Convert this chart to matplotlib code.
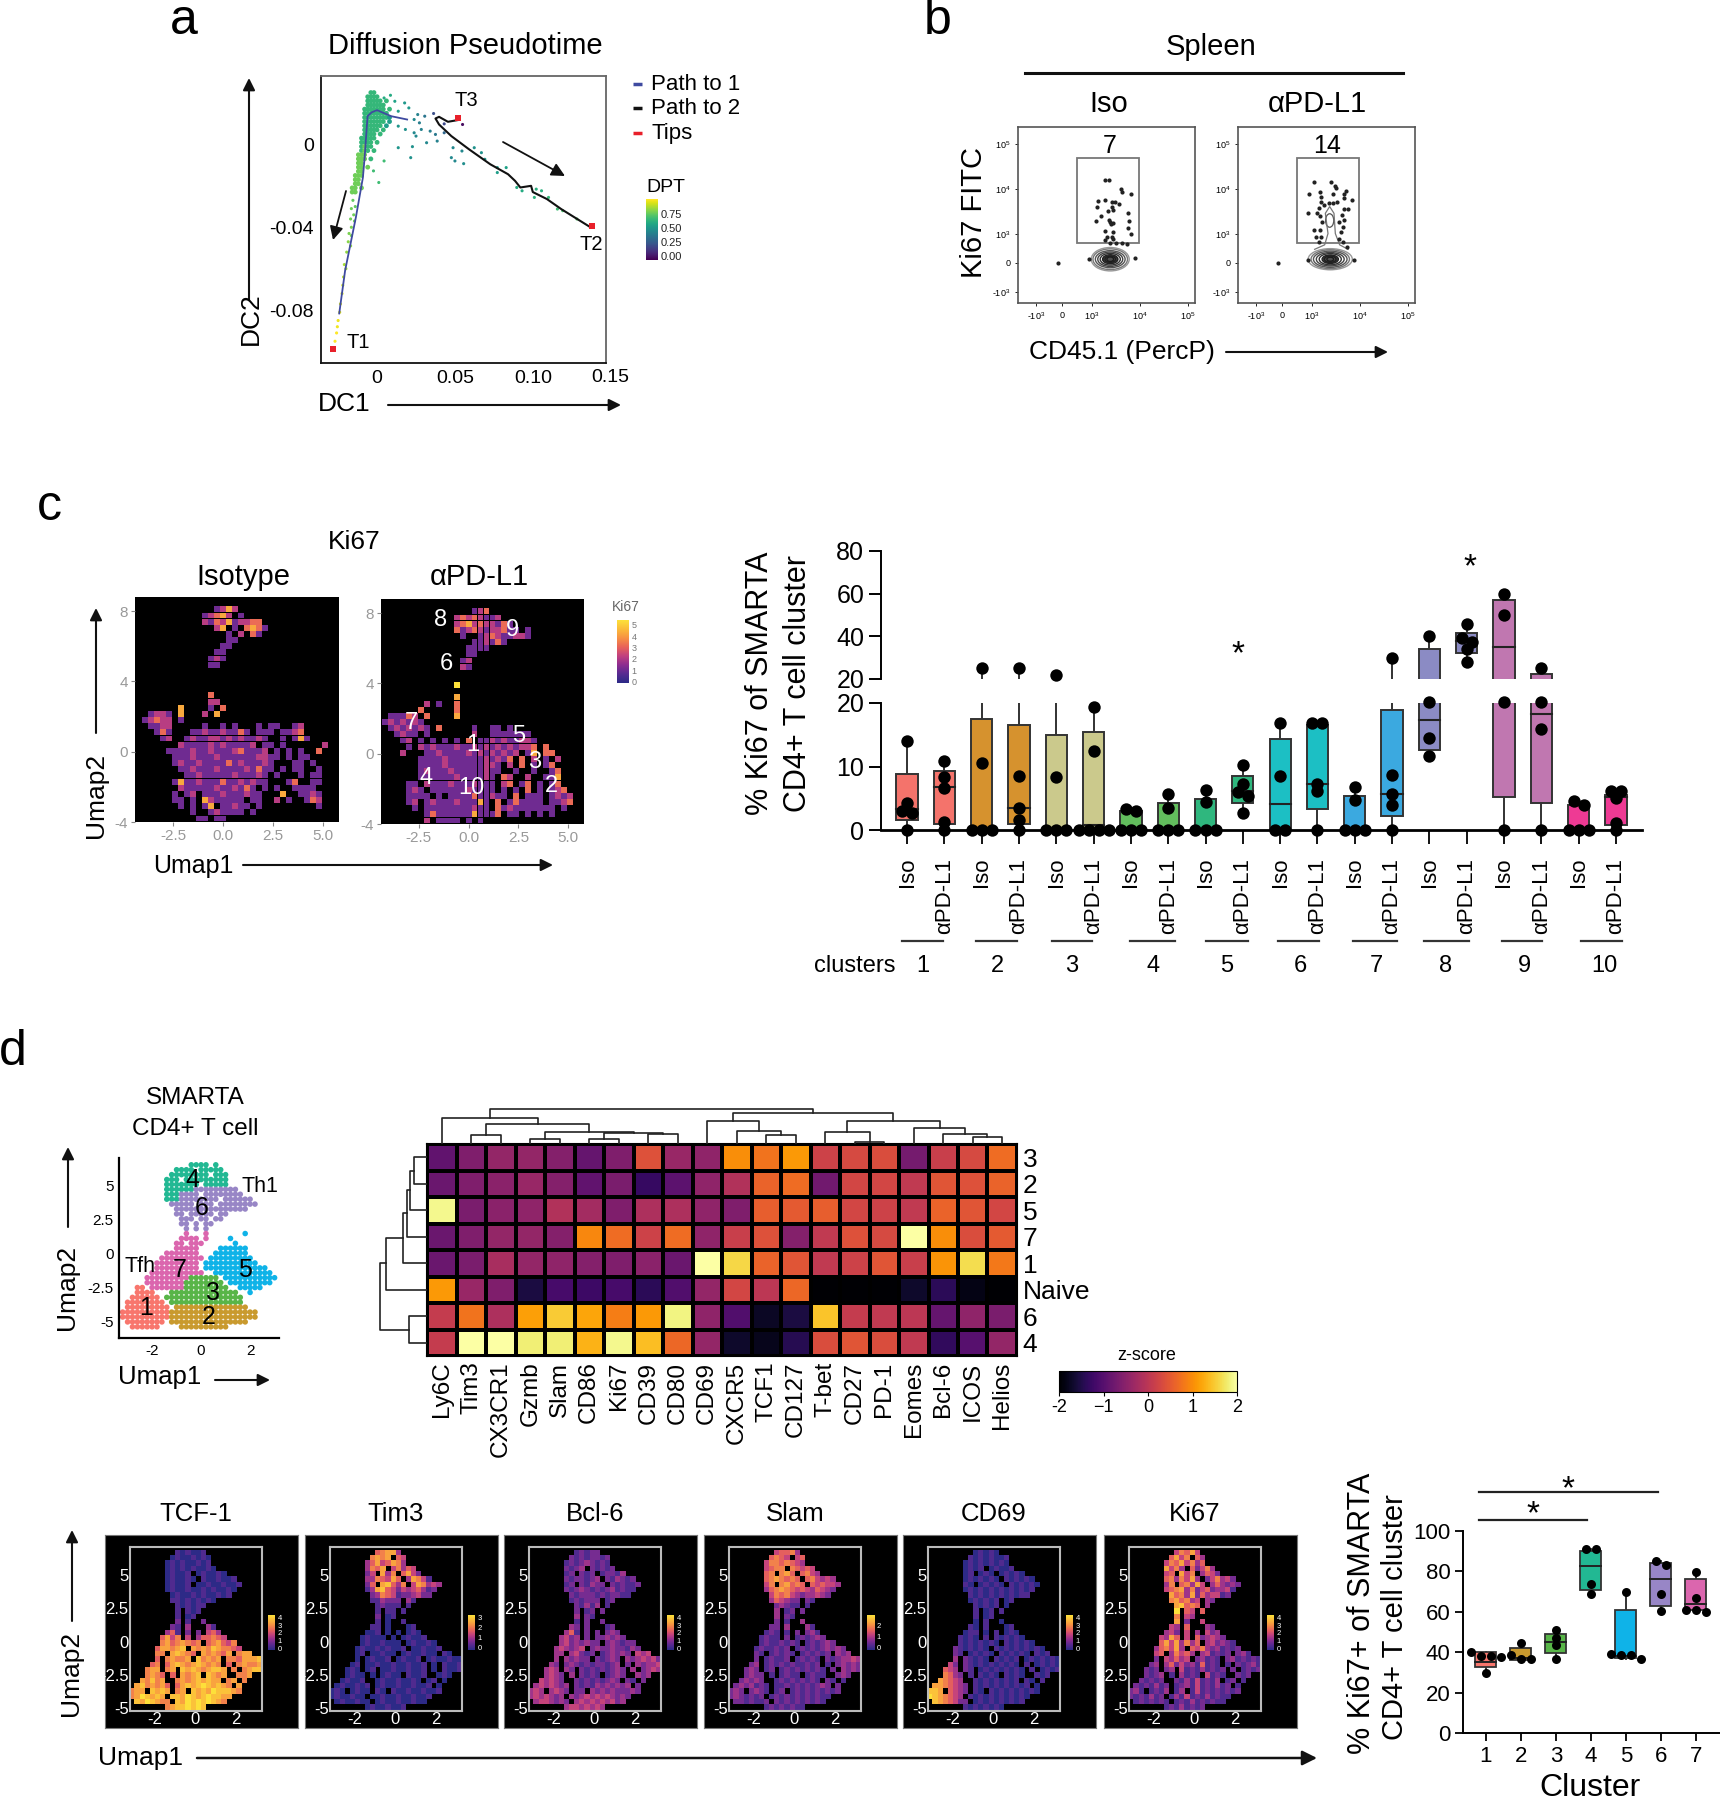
#!/usr/bin/env python3

import numpy as np
import matplotlib
matplotlib.use('Agg')
import matplotlib.pyplot as plt
from matplotlib.colors import LinearSegmentedColormap
from matplotlib.patches import Ellipse, Rectangle

plt.rcParams['font.family'] = ['Liberation Sans', 'DejaVu Sans']
plt.rcParams['mathtext.default'] = 'regular'
plt.rcParams['axes.unicode_minus'] = False

W, H = 1720, 1800

# panel a, diffusion map
a_dc1 = [.0045, .0086, .0114, .0177, .0204, .0136, .0261, .0306, .0363, .0238, .0272, .0136, .0182, .0238, .0284,
         .0341, .0431, .0375, .025, .0136, .0227, .0216, .0318, .0386, .0488, .0545, .0477, .05, .0556, .0624,
         .067, .0692, .0772, .0772, .0829, .0897, .0931, .1022, .1056, .101, .1101, .1158, .1192, .1283, .0045,
         .0011, -.0023, .0549, .0431,
         -.0155, -.014, -.0165, -.015, -.017, -.0145, -.0165, -.018, -.0165, -.0185, -.017, -.0195, -.021, -.02,
         -.0215, -.022, -.0225, -.0235, -.024, -.025, -.0255, -.026, -.027]
a_dc2 = [.0224, .0237, .0208, .02, .0176, .016, .0144, .0136, .0149, .012, .0104, .0088, .0072, .0056, .0072,
         .0064, .0056, .0048, .004, -.0016, -.0011, -.0064, .0008, .0016, -.0016, -.0032, -.0064, -.008, -.0093, -.0016,
         -.004, -.0072, -.0112, -.0136, -.0112, -.0208, -.0224, -.0216, -.0224, -.0256, -.0256, -.0312, -.032, -.036, -.008,
         -.0184, -.0128, .0096, .0099,
         -.027, -.03, -.031, -.034, -.036, -.037, -.04, -.043, -.044, -.047, -.049, -.052, -.058, -.06,
         -.064, -.068, -.072, -.077, -.081, -.085, -.088, -.091, -.095]
a_dpt = [.55, .55, .52, .48, .48, .5, .4, .35, .22, .42, .38, .47, .45, .42, .4,
         .38, .3, .36, .42, .47, .45, .45, .42, .4, .42, .42, .42, .42, .44, .46,
         .46, .47, .5, .5, .52, .55, .55, .57, .57, .58, .6, .62, .64, .66, .62,
         .62, .62, .03, .2,
         .68, .68, .7, .7, .7, .7, .72, .72, .72, .74, .74, .75, .78, .78,
         .8, .82, .84, .85, .86, .88, .88, .9, .9]
a_head = ["......66",
          ".....6666",
          ".....66666.6",
          ".....666666",
          "....6666666.6",
          "....66666666",
          "....666666665",
          "....6666666.5",
          "....666666.5",
          "....66666.6",
          "....6666.6",
          "...66666",
          "...6666.6",
          "...6766",
          "...676.6",
          "..777",
          "..777.6",
          "..77",
          "..77.7",
          "..77",
          ".777",
          ".77",
          ".77",
          "77.7",
          "77"]
path1_dc1 = [.0193, .0091, 0, -.0034, -.0061, -.008, -.0091, -.0136, -.0205, -.0243]
path1_dc2 = [.012, .0136, .0165, .0155, .0136, -.0064, -.016, -.0352, -.0608, -.0816]
path2_dc1 = [.0516, .0455, .0398, .0375, .0398, .0477, .0591, .0727, .0841, .0886, .092, .0989, .1, .1091, .1182, .1364]
path2_dc2 = [.0117, .0109, .0133, .0125, .0096, .004, -.0024, -.0096, -.0144, -.0176, -.0208, -.02, -.023, -.0264, -.0312, -.0397]
tips_dc1 = [-.028, .052, .138]
tips_dc2 = [-.0988, .0125, -.0395]

# panel b, flow plots
iso_x = [3.27, 3.35, 3.60, 3.63, 3.81, 3.12, 3.27, 3.41, 3.48, 3.57, 3.11, 3.41, 3.34, 3.43, 3.74, 3.18, 3.08, 3.38, 3.43,
         3.77, 3.76, 3.27, 3.44, 3.81, 3.31, 3.41, 3.27, 3.44, 3.38, 3.51, 3.62, 3.72, 2.30, 3.90, 2.94, 3.36, 3.40]
iso_y = [4.19, 4.19, 4.01, 3.93, 3.90, 3.73, 3.76, 3.72, 3.72, 3.67, 3.59, 3.61, 3.52, 3.53, 3.46, 3.39, 3.30, 3.27, 3.25,
         3.30, 3.13, 3.07, 3.05, 3.01, 2.94, 2.94, 2.87, 2.90, 2.79, 2.79, 2.79, 2.77, 2.35, 2.46, 2.44, 3.31, 3.22]
pd_x = [3.05, 3.40, 3.47, 3.50, 2.94, 3.16, 3.18, 3.71, 3.66, 3.44, 3.67, 3.84, 3.18, 3.25, 3.35, 3.44, 3.53, 3.14, 3.67,
        3.74, 2.92, 3.10, 3.17, 3.62, 3.67, 3.57, 3.20, 3.64, 3.04, 3.17, 3.60, 3.08, 3.19, 3.57, 3.15, 3.64, 3.72, 2.29, 3.88, 2.92]
pd_y = [4.16, 4.16, 4.07, 4.02, 3.90, 3.94, 3.83, 3.96, 3.90, 3.90, 3.79, 3.76, 3.72, 3.64, 3.68, 3.70, 3.72, 3.57, 3.55,
        3.55, 3.46, 3.46, 3.39, 3.42, 3.31, 3.27, 3.27, 3.16, 3.10, 3.09, 3.05, 2.94, 2.93, 2.90, 2.83, 2.83, 2.72, 2.35, 2.42, 2.42]
iso_contour_w = [.79, .72, .62, .52, .42, .32, .22, .14]
iso_contour_h = [.52, .46, .38, .32, .26, .2, .14, .1]
pd_contour_w = [.92, .8, .7, .58, .46, .34, .24, .14]
pd_contour_h = [.47, .42, .36, .3, .25, .19, .14, .09]
tear_x = [3.055, 3.264, 3.333, 3.278, 3.368, 3.458, 3.486, 3.576, 3.75]
tear_y = [2.66, 2.76, 3.01, 3.46, 3.61, 3.46, 3.01, 2.76, 2.66]

# panel c, Ki67 umaps, one digit per cell, '.' is empty
ki_iso = [".............1242",
          "...........12342.1",
          "...........2132412233",
          ".............24.1.3431",
          "...............1.2.31",
          "...............11",
          "..............11",
          ".............11",
          "............121",
          "............11",
          "",
          "",
          "",
          "",
          "............3",
          "............22",
          ".......4....1.3",
          "..1221.4...2.4",
          ".12322.1",
          "..1122.....1..1.1...1.11..12",
          "...131...1121121131.111.1123..",
          "....12..12112212121121..1.141.",
          ".......2111121211112.11.1......2",
          ".....11112112111231112.1.1.1..3",
          "......111211121111112211.1.11..",
          "......12112111131211121...11.1.",
          ".......1121112111121311.1.11..1",
          "........11211111211121.1...1.11",
          "......1411211131121211...13..11",
          ".......2111112112131.1.1..1111",
          "......1.12.1112111211...4..1121",
          "......11.1.4211111.11..2.1..132",
          ".......1.1.14.11211.1.........1",
          ".........1..121111.1",
          "..........11.11"]
ki_pd = ["...............123",
         "............23232112",
         "............2342322131",
         "............31232122311.1",
         ".............1..123211221",
         "...............112131",
         "..............1111",
         "..............11",
         ".............12",
         ".............21",
         "",
         "",
         "............5",
         "",
         "............4",
         ".......2.1..3",
         "......3.....3",
         ".11132.3....4",
         "1212121......",
         ".1212121.3.....1..11.1..",
         "..1211.1.......2..1111111..",
         "...12.1.1.1.1.3.1121211221..",
         "....1.21211121121212121223.3.",
         "...2...1121111212121212.14.33.",
         "......1111211111121213.3.2.1.2",
         "......11112111111221.2.3.1.13",
         "......12111211111211..1..1..13",
         "......1111112111121.32..2..114",
         "....11.211121112111.23.13.1.13",
         "....121.11111121111.1.1.3.1.123",
         "....1111.1.1111311211.3.111.1212",
         "....12.12111211141.3.131111.1123",
         ".....1.11111111211.3121111111.1",
         ".......1311111141113.11.1.1.1",
         ".......2.1111.1.1"]

# panel c, box plot
c_labels = ['Iso', 'αPD-L1'] * 10
c_colors = ['#f4736b', '#f4736b', '#d6922e', '#d6922e', '#cbc98c', '#cbc98c', '#62bd5d', '#62bd5d', '#2fb77e', '#2fb77e',
            '#1cbfc4', '#1cbfc4', '#3ba9e0', '#3ba9e0', '#8b8bc4', '#8b8bc4', '#c077b0', '#c077b0', '#ee3a94', '#ee3a94']
c_q1 = [1.5, .9, 0, 1, 0, 0, 0, 0, 0, 4.2, 0, 3.3, 0, 2.2, 12.6, 32, 5.2, 4.2, 0, .8]
c_med = [3.3, 6.7, 0, 3.4, 0, .8, 0, 0, 0, 6.2, 4.1, 7.2, 0, 5.7, 17.3, 38, 35, 18.2, 0, 5.2]
c_q3 = [8.8, 9.3, 17.5, 16.5, 15, 15.5, 3, 4.3, 4.9, 8.5, 14.4, 16.5, 5.4, 18.9, 34, 41.5, 57, 22.3, 3.9, 5.5]
c_pts = [[14, 4.2, 3, 2.7, 0], [10.9, 8.3, 6.6, 1.3, 0], [25, 10.5, 0, 0, 0], [25, 8.5, 3.4, 1.5, 0], [22, 8.4, 0, 0, 0],
         [19.3, 12.5, 0, 0, 0, 0], [3.3, 3, 0, 0, 0], [5.7, 3.4, 0, 0, 0], [6.3, 4.4, 0, 0, 0], [10.2, 7.2, 6, 5.3, 2.7],
         [16.9, 8.5, 0, 0], [16.9, 16.9, 7.2, 6.2, 0], [6.7, 4.7, 0, 0, 0], [30, 8.7, 5.7, 3.9, 0], [40, 20.2, 14.5, 11.7],
         [46, 39, 37.5, 34, 28], [60, 50, 20.2, 0], [25, 20.2, 15.9, 0], [4.5, 3.9, 0, 0, 0], [6.2, 6.2, 5.1, 1.1, 0]]
cluster_names = ['1', '2', '3', '4', '5', '6', '7', '8', '9', '10']

# panel d, cluster umap, one cluster number per cell
cluster_map = ["..............4444.4",
               "...........4444.44444",
               "..........44444444.444",
               ".........444.444444444",
               ".........4444444.44444",
               ".........444444666666666",
               ".........4446666.66666666",
               ".........44466666666.666666",
               "..........66666.666.66666666",
               "...........666666666666666",
               "...........66.66666.66",
               "............666.66.66",
               "............66.6.66",
               ".............6.6.6",
               ".............7...7.......5",
               "............7777.7....5",
               "...........77.777......5",
               "...........77777....555555",
               ".........7777777...5555555",
               "........777777777.555555555",
               ".......777777777.55555555555",
               ".......777777777.5555555555555",
               "......77777777777..555555555555",
               ".....777777777333333.55555555555",
               ".....7777777733333333.555555555",
               "...11.7777777333333333..55555",
               "...1111...33333333333333..5",
               "..111111.3333333333333333",
               ".11111111.333333333333333",
               ".111111111.222222222222222",
               "1111111111222222222222222222",
               "1111111111222222222222222222",
               ".11111111.2222222222222222",
               "..111111....2222222222"]
cluster_colors = {'1': '#f8766d', '2': '#c99a2e', '3': '#58b548', '4': '#22b893', '5': '#0fb3e8', '6': '#9886c6', '7': '#db66ae'}

# panel d, heatmap
hm_cols = ['Ly6C', 'Tim3', 'CX3CR1', 'Gzmb', 'Slam', 'CD86', 'Ki67', 'CD39', 'CD80', 'CD69', 'CXCR5', 'TCF1', 'CD127',
           'T-bet', 'CD27', 'PD-1', 'Eomes', 'Bcl-6', 'ICOS', 'Helios']
hm_rows = ['3', '2', '5', '7', '1', 'Naive', '6', '4']
hm_3 = [-.9, -.6, -.4, -.4, -.55, -.85, -.6, .4, -.35, -.45, 1.0, .75, 1.1, .2, .3, .35, -.7, .15, .3, .7]
hm_2 = [-.8, -.6, -.5, -.35, -.55, -.9, -.65, -1.3, -.95, -.45, -.1, .6, .7, -.75, .25, .25, .05, .45, .4, .6]
hm_5 = [1.9, -.65, -.5, -.45, -.1, -.25, -.6, -.15, -.15, -.45, -.6, .55, .5, .55, .25, .2, .05, .6, .45, .25]
hm_7 = [-.8, -.6, -.4, -.4, -.55, .95, .7, .2, .7, -.45, .15, .4, -.55, .05, .4, .3, 2.0, 1.0, .35, .5]
hm_1 = [-.8, -.65, -.2, -.4, -.45, -.55, -.6, -.5, -.8, 2.0, 1.6, .6, .45, .05, .2, .45, .15, 1.05, 1.65, .8]
hm_naive = [1.1, -.35, -.6, -1.55, -1.15, -1.25, -1.15, -1.4, -1.05, -.4, .25, 0, .65, -2, -2, -2, -1.7, -1.4, -1.85, -2]
hm_6 = [.1, .75, -.15, 1.15, 1.5, 1.2, .85, 1.1, 1.85, -.45, -1.05, -1.75, -1.55, 1.45, .1, .05, 0, -.85, -.45, -.65]
hm_4 = [.1, 2.0, 2.0, 1.8, 1.8, 1.3, 1.9, 1.4, .65, -.4, -1.7, -1.8, -1.45, .35, .45, .35, .05, -1.35, -1.0, -.4]

# dendrograms: left pos, right pos, height, left child height, right child height
top_tree = [(1.5, 2.5, 25, 0, 0), (3.5, 4.5, 15, 0, 0), (5.5, 6.5, 15, 0, 0), (7.5, 8.5, 28, 0, 0), (6, 8, 32, 15, 28),
            (4, 7, 35, 15, 32), (2, 5.5, 58, 25, 35), (.5, 3.75, 75, 0, 58), (11.5, 12.5, 27, 0, 0), (10.5, 12, 38, 0, 27),
            (9.5, 11.25, 65, 0, 38), (14.5, 15.5, 5, 0, 0), (13.5, 15, 35, 0, 5), (18.5, 19.5, 20, 0, 0), (17.5, 19, 28, 0, 20),
            (16.5, 18.25, 47, 0, 28), (14.25, 17.375, 65, 35, 47), (10.375, 15.8, 88, 65, 65), (2.125, 13.1, 100, 75, 88)]
left_tree = [(.5, 1.5, 22, 0, 0), (1, 2.5, 30, 22, 0), (1.75, 3.5, 35, 30, 0), (2.6, 4.5, 42, 35, 0), (3.55, 5.5, 72, 42, 0),
             (6.5, 7.5, 32, 0, 0), (4.5, 7, 82, 72, 32)]

# panel d, feature umaps, one digit per cell
tcf1_map = [".........101001", "........01001010", ".......010100101", ".......0101010010", ".......01001.010010",
            ".......010010.1001001", ".......01001.001001001", ".......01001001010010", "........010010100101",
            "........110101010", ".........101011", ".........1.101", ".........1.01", ".........2.1..2", "........21.3...31",
            ".......351.2.2.453", "......5746.4.355654", "......67567656.567546", ".....577678.7676876654",
            ".....66.78765.767657.677", ".....5.67667.86767.6657778", "....56.57876787676.5.67667",
            "...677.67.878767887.6.6788", "...6765.5.7678.8767..667", "..76867..676787877.67.6",
            ".7867675.57878987876.7", "677.8787.67.8787988876", "6798787.887987898877", ".8798766.8798989876", ".......67889898"]
tim3_map = [".........56773", "........6767.54", ".......35745763", ".......3657.46354", ".......24.736.5742",
            ".......3365475.37641", ".......25.78536.476343", ".......13785424345312", "........236541223422",
            "........113222.31", ".........12111.1", ".........1.11.1", ".........2.01", ".........1.0..1", "........11.0...01",
            ".......001.0.0.010", "......01000.0.01001", "......01001000.010010", ".....0100101001.001001",
            ".....01.00100.0100100.10", ".....0.01001.01001.0100100", "....01.001001001001.0.10010",
            "...010.01.001001001.0.1001", "...0100.0.0100.1001..010", "..01001..010010010.01.0",
            ".0100101.01001001001.0", "010.0100.10.1001001001", "0100100.001001001001", ".0100100.0100100100", ".......01001001"]
bcl6_map = [".........12122", "........21212212", ".......121232121", ".......2123.21212", ".......12.212.12213",
            ".......2122123.213212", ".......12.21322.212112", ".......21232121231211", "........212221212211",
            "........121222.12", ".........21313.1", ".........2.12.2", ".........3.21", ".........1.2..2", "........32.2...12",
            ".......351.2.2.232", "......3423.2.223232", "......34232322.232122", ".....343234.2322322132",
            ".....33.34212.123232.434", ".....3.32322.21232.3234342", "....32.23212122123.2.32334",
            "...343.32.212121232.3.2343", "...3432.3.2121.1232..323", "..43432..212121232.21.2",
            ".3434323.21213232323.2", "343.3432.22.3232322232", "3434323.323434343232", ".3443232.3434343423", ".......34434343"]
slam_map = [".........45563", "........5654.45", ".......46656543", ".......4566.65454", ".......56.675.5643",
            ".......5676565.564343", ".......46.67565.545443", ".......35676545435432", "........465643233432",
            "........354322.21", ".........23211.1", ".........3.12.2", ".........3.21", ".........2.1..3", "........22.3...31",
            ".......121.1.2.231", "......1211.2.121232", "......12112121.121232", ".....1211212.1212123232",
            ".....21.12121.121212.323", ".....2.12112.12121.2123343", "....23.12121211212.1.23232",
            "...232.12.121212121.2.3232", "...2322.1.1211.1211..232", "..23232..121212121.21.1",
            ".2323121.11212121232.2", "232.2321.12.1212121212", "2321212.121212121211", ".2212112.2121212121", ".......12121211"]
cd69_map = [".........01010", "........10101001", ".......010101010", ".......0101.01001", ".......01.010.01010",
            ".......0101010.101010", ".......10.01010.101010", ".......01010101010101", "........101010101011",
            "........010101.01", ".........10101.0", ".........1.01.1", ".........1.01", ".........0.1..0", "........10.1...01",
            ".......011.0.1.010", "......1010.1.101010", "......10101010.101010", ".....2101010.1010101010",
            ".....21.01010.101010.101", ".....3.21010.10101.0101010", "....42.21010101010.1.01010",
            "...543.21.010101010.1.0101", "...6532.1.1010.1010..101", "..76543..101010101.10.1",
            ".7765432.10101010101.0", "887.5432.10.1010101010", "9876543.101010101010", ".8765422.0101010101", ".......10101010"]
ki67_map = [".........46574", "........5746.53", ".......46574635", ".......7463.52463", ".......45.746.3542",
            ".......5636473.246342", ".......36.56374.353232", ".......45673624523341", "........756372534412",
            "........675634.32", ".........78565.3", ".........9.54.5", ".........6.43", ".........7.2..4", "........43.5...32",
            ".......342.4.3.423", "......4375.4.523432", "......57473635.342321", ".....356473.5463231212",
            ".....45.36453.341212.231", ".....2.43534.23121.2312121", "....23.35242315121.1.21231",
            "...212.23.412131212.2.1212", "...2123.1.3121.4121..212", "..21212..213141213.12.1",
            ".2121312.12314121312.1", "231.1213.13.1412121212", "2121312.131412131211", ".1212121.1213121211", ".......12131212"]
feat_names = ['TCF-1', 'Tim3', 'Bcl-6', 'Slam', 'CD69', 'Ki67']
feat_maps = [tcf1_map, tim3_map, bcl6_map, slam_map, cd69_map, ki67_map]
feat_left = [105, 305, 504, 704, 903, 1104]
feat_bar_ticks = [[0, 1, 2, 3, 4], [0, 1, 2, 3], [0, 1, 2, 3, 4], [0, 1, 2], [0, 1, 2, 3, 4], [0, 1, 2, 3, 4]]
feat_bar_top = [4.3, 3.3, 4.3, 2.9, 4.3, 4.3]

# panel d, cluster box plot
d_colors = ['#f8766d', '#c99a2e', '#58b548', '#22b893', '#0fb3e8', '#9886c6', '#db66ae']
d_q1 = [32.5, 36, 39.5, 71, 37, 63, 61]
d_med = [35, 37, 45, 82.5, 38, 76, 64]
d_q3 = [40, 42, 49, 90, 61, 84, 76]
d_pts = [[40, 38, 38, 37.5, 29.5], [44.5, 38.5, 36.5, 36.5], [51, 47, 43.5, 36.5], [91, 91, 74, 69],
         [70, 39, 38.5, 38.5, 36.5], [85, 83, 69, 60.5], [79.5, 67, 61, 61, 60]]

fig = plt.figure(figsize=(W / 100, H / 100), dpi=100, facecolor='white')


def px_axes(x0, y0, x1, y1, **kw):
    return fig.add_axes([x0 / W, 1 - y1 / H, (x1 - x0) / W, (y1 - y0) / H], **kw)


over = fig.add_axes([0, 0, 1, 1], zorder=20)
over.set_xlim(0, W)
over.set_ylim(H, 0)
over.axis('off')
over.patch.set_alpha(0)


def txt(x, y, s, size, **kw):
    kw.setdefault('ha', 'center')
    kw.setdefault('va', 'center')
    over.text(x, y, s, fontsize=size, **kw)


def arrow(x0, y0, x1, y1, ms=18, lw=1.5):
    over.annotate('', xy=(x1, y1), xytext=(x0, y0),
                  arrowprops=dict(arrowstyle='-|>', lw=lw, color='#111111', mutation_scale=ms, shrinkA=0, shrinkB=0))


def grid_cells(rows, x0, dx, y0, dy):
    xs, ys, vals = [], [], []
    for r, row in enumerate(rows):
        for c, ch in enumerate(row):
            if ch not in '. ':
                xs.append(x0 + c * dx)
                ys.append(y0 - r * dy)
                vals.append(ch)
    return xs, ys, vals


def small_bar(x0, y0, x1, y1, cmap, lo, hi, ticks, labels, color, size):
    cax = px_axes(x0, y0, x1, y1)
    cax.imshow(np.linspace(1, 0, 64).reshape(-1, 1), cmap=cmap, aspect='auto', extent=(0, 1, lo, hi))
    cax.set_xticks([])
    cax.yaxis.tick_right()
    cax.set_yticks(ticks)
    cax.set_yticklabels(labels, fontsize=size, color=color)
    cax.tick_params(axis='y', length=0, pad=2)
    for s in cax.spines.values():
        s.set_visible(False)
    return cax


def swarm(vals, thr, step):
    # spread points with nearly the same value sideways
    order = sorted(vals, reverse=True)
    groups = []
    for v in order:
        if groups and abs(groups[-1][-1] - v) < thr:
            groups[-1].append(v)
        else:
            groups.append([v])
    out = []
    for g in groups:
        for i, v in enumerate(g):
            out.append(((i - (len(g) - 1) / 2) * step, v))
    return out


magma_like = LinearSegmentedColormap.from_list('feat', ['#2d2a87', '#5a2a92', '#8e2d90', '#c2417f', '#e8625a', '#f79044', '#fbb93a', '#fde03a'])

# ---------- a ----------
txt(184, 21, 'a', 36)
txt(465, 46, 'Diffusion Pseudotime', 21)
ax = px_axes(321, 76, 606, 363)
ax.set_xlim(-.036, .147)
ax.set_ylim(-.1055, .033)
gx, gy, gv = grid_cells(a_head, -.016, .002, .025, .002)
ax.scatter(gx, gy, c=[int(v) / 10 for v in gv], s=12, cmap='viridis', vmin=0, vmax=.9, linewidths=0)
ax.scatter(a_dc1, a_dc2, c=a_dpt, s=5, cmap='viridis', vmin=0, vmax=.9, linewidths=0)
ax.plot(path1_dc1, path1_dc2, color='#3f4aa0', lw=1.3)
ax.plot(path2_dc1, path2_dc2, color='#111111', lw=1.5)
ax.scatter(tips_dc1, tips_dc2, color='#e8202a', s=18, marker='s', linewidths=0, zorder=5)
ax.set_xticks([0, .05, .1])
ax.set_xticklabels(['0', '0.05', '0.10'], fontsize=14)
ax.text(.15, -.02, '0.15', fontsize=14, ha='center', va='top', transform=ax.get_xaxis_transform(), clip_on=False)
ax.set_yticks([0, -.04, -.08])
ax.set_yticklabels(['0', '-0.04', '-0.08'], fontsize=14)
ax.tick_params(length=0, pad=5)
for s in ax.spines.values():
    s.set_color('#666666')
    s.set_linewidth(1.3)
ax.spines['left'].set_color('#111111')
ax.spines['bottom'].set_color('#111111')
txt(358, 343, 'T1', 14.5)
txt(466, 100, 'T3', 14.5)
txt(591, 245, 'T2', 14.5)
arrow(249, 300, 249, 78)
txt(251, 319, 'DC2', 19, rotation=90)
txt(344, 404, 'DC1', 19)
arrow(388, 405, 621, 405)
arrow(346, 191, 333, 240, ms=20, lw=1.3)
arrow(503, 142, 565, 176, ms=20, lw=1.3)
for yy, name, col in [(84, 'Path to 1', '#3f4aa0'), (108, 'Path to 2', '#111111'), (133, 'Tips', '#e8202a')]:
    over.plot([633, 642], [yy, yy], color=col, lw=2.5, solid_capstyle='butt')
    txt(651, yy, name, 16, ha='left')
txt(666, 188, 'DPT', 14)
small_bar(646, 199, 658, 260, 'viridis', -.08, 1.02, [0, .25, .5, .75], ['0.00', '0.25', '0.50', '0.75'], '#222222', 8)

# ---------- b ----------
txt(938, 21, 'b', 36)
txt(1211, 47, 'Spleen', 21)
over.plot([1025, 1403], [73, 73], color='#111111', lw=2.2)
txt(1109, 104, 'Iso', 21)
txt(1317, 104, 'αPD-L1', 21)
for x0, name, pxs, pys, cw, ch, lab, labx in [(1018, 'iso', iso_x, iso_y, iso_contour_w, iso_contour_h, '7', 1110),
                                              (1238, 'pd', pd_x, pd_y, pd_contour_w, pd_contour_h, '14', 1327)]:
    ax = px_axes(x0, 127, x0 + 177, 303)
    ax.set_xlim(1.458, 5.146)
    ax.set_ylim(1.467, 5.378)
    ax.add_patch(Rectangle((2.68, 2.81), 1.29, 1.87, fill=False, edgecolor='#777777', lw=1.3))
    shades = ['#999999', '#777777', '#555555', '#444444', '#333333', '#222222', '#111111', '#000000']
    for w, h, sh in zip(cw, ch, shades):
        ax.add_patch(Ellipse((3.38, 2.44), w, h, fill=False, edgecolor=sh, lw=1.0))
    ax.add_patch(Ellipse((3.38, 2.44), .3, .16, color='#222222', alpha=.8))
    if name == 'pd':
        ax.plot(tear_x, tear_y, color='#777777', lw=.9)
        ax.add_patch(Ellipse((3.368, 3.30), .17, .3, fill=False, edgecolor='#555555', lw=.9))
    ax.scatter(pxs, pys, s=9, color='#222222', linewidths=0, zorder=4)
    ax.set_xticks([1.83, 2.375, 3, 4, 5])
    ax.set_xticklabels(['-10$^{3}$', '0', '10$^{3}$', '10$^{4}$', '10$^{5}$'], fontsize=6.5)
    ax.set_yticks([1.71, 2.356, 3, 4, 5])
    ax.set_yticklabels(['-10$^{3}$', '0', '10$^{3}$', '10$^{4}$', '10$^{5}$'], fontsize=6.5)
    ax.tick_params(length=2.5, width=.6, pad=3)
    for s in ax.spines.values():
        s.set_color('#555555')
        s.set_linewidth(1.2)
    txt(labx, 146, lab, 18)
txt(974, 212, 'Ki67 FITC', 21, rotation=90)
txt(1122, 352, 'CD45.1 (PercP)', 19)
arrow(1226, 352, 1388, 352)

# ---------- c, umaps ----------
txt(49, 507, 'c', 36)
txt(354, 542, 'Ki67', 19)
txt(243, 577, 'Isotype', 21)
txt(479, 577, 'αPD-L1', 21)
for box, rows in [((135, 597, 339, 822), ki_iso), ((381, 599, 584, 824), ki_pd)]:
    ax = px_axes(*box, facecolor='black')
    ax.set_xlim(-4.4, 5.8)
    ax.set_ylim(-4, 8.8)
    gx, gy, gv = grid_cells(rows, -4.2, .3, 8.1, .35)
    ax.scatter(gx, gy, c=[int(v) for v in gv], s=18, marker='s', cmap=magma_like, vmin=0, vmax=5, linewidths=0)
    ax.set_xticks([-2.5, 0, 2.5, 5])
    ax.set_xticklabels(['-2.5', '0.0', '2.5', '5.0'], fontsize=11, color='#999999')
    ax.set_yticks([-4, 0, 4, 8])
    ax.set_yticklabels(['-4', '0', '4', '8'], fontsize=11, color='#999999')
    ax.tick_params(length=3, color='#888888', pad=2)
    for s in ax.spines.values():
        s.set_visible(False)
for lab, lx, ly in [('8', 441, 620), ('9', 512, 630), ('6', 446, 664), ('7', 411, 723), ('1', 473, 745),
                    ('5', 519, 736), ('3', 535, 762), ('2', 551, 786), ('4', 426, 778), ('10', 471, 788)]:
    txt(lx, ly, lab, 17, color='white')
txt(626, 607, 'Ki67', 10, color='#666666')
small_bar(617, 620, 629, 683, magma_like, -.1, 5.4, [0, 1, 2, 3, 4, 5], ['0', '1', '2', '3', '4', '5'], '#777777', 6.5)
txt(96, 795, 'Umap2', 19, rotation=90)
arrow(96, 733, 96, 608)
txt(193, 866, 'Umap1', 18)
arrow(243, 865, 553, 865)

# ---------- c, box plot ----------
ax_hi = px_axes(881, 551, 1642, 679)
ax_lo = px_axes(881, 703, 1642, 830)
box_w = .57
pos = np.arange(len(c_labels))
for ax, lo, hi in [(ax_hi, 20, 80), (ax_lo, 0, 20)]:
    ax.set_xlim(-.7, 19.7)
    ax.set_ylim(lo, hi)
    for p, q1, med, q3, col, pts in zip(pos, c_q1, c_med, c_q3, c_colors, c_pts):
        ax.plot([p, p], [min(pts), max(pts)], color='#222222', lw=1.3, zorder=1)
        ax.add_patch(Rectangle((p - box_w / 2, q1), box_w, q3 - q1, facecolor=col, edgecolor='#333333', lw=1.4, zorder=2))
        if lo <= med <= hi:
            ax.plot([p - box_w / 2, p + box_w / 2], [med, med], color='#222222', lw=1.5, zorder=3)
        if hi == 20:
            use = [v for v in pts if v <= 20.5]
            off = swarm(use, 1.0, .27)
        else:
            use = [v for v in pts if v > 20.5]
            off = swarm(use, 2.5, .27)
        for dx, v in off:
            ax.scatter([p + dx], [v], s=80, color='black', linewidths=0, zorder=4, clip_on=False)
    for s in ['top', 'right', 'bottom']:
        ax.spines[s].set_visible(False)
    ax.spines['left'].set_linewidth(1.4)
    ax.tick_params(axis='y', labelsize=18, width=1.4, length=9, pad=3)
ax_hi.set_xticks([])
ax_hi.set_yticks([20, 40, 60, 80])
ax_lo.set_yticks([0, 10, 20])
ax_lo.spines['bottom'].set_visible(True)
ax_lo.spines['bottom'].set_linewidth(2)
ax_lo.set_xticks(pos)
ax_lo.set_xticklabels(c_labels, rotation=90, fontsize=16)
ax_lo.tick_params(axis='x', length=10, width=1.3, pad=10)
txt(760, 683, '% Ki67 of SMARTA', 22, rotation=90)
txt(798, 683, 'CD4+ T cell cluster', 22, rotation=90)
txt(1238, 655, '*', 24)
txt(1470, 568, '*', 24)
line_left = [902, 976, 1052, 1130, 1206, 1278, 1353, 1424, 1502, 1581]
line_right = [943, 1017, 1092, 1175, 1248, 1319, 1397, 1469, 1542, 1622]
name_x = [923, 997, 1072, 1153, 1227, 1300, 1376, 1446, 1524, 1604]
for l, r, nx, name in zip(line_left, line_right, name_x, cluster_names):
    over.plot([l, r], [941, 941], color='#333333', lw=1.6)
    txt(nx, 966, name, 17)
txt(855, 966, 'clusters', 17)

# ---------- d, cluster umap ----------
txt(13, 1052, 'd', 36)
txt(195, 1098, 'SMARTA', 17.5)
txt(195, 1129, 'CD4+ T cell', 17.5)
ax = px_axes(119, 1158, 279, 1338)
ax.set_xlim(-3.35, 3.18)
ax.set_ylim(-6.2, 7.0)
gx, gy, gv = grid_cells(cluster_map, -3.2, .2, 6.5, .36)
ax.scatter(gx, gy, color=[cluster_colors[v] for v in gv], s=16, linewidths=0)
for s in ['top', 'right']:
    ax.spines[s].set_visible(False)
ax.spines['left'].set_linewidth(1.6)
ax.spines['bottom'].set_linewidth(1.6)
ax.set_xticks([-2, 0, 2])
ax.set_yticks([5, 2.5, 0, -2.5, -5])
ax.set_yticklabels(['5', '2.5', '0', '-2.5', '-5'])
ax.tick_params(length=0, labelsize=11, pad=4)
for lab, lx, ly, size in [('4', 192, 1180, 18), ('6', 202, 1208, 18), ('7', 180, 1270, 18), ('5', 245, 1270, 18),
                          ('3', 213, 1293, 18), ('2', 209, 1317, 18), ('1', 146, 1308, 18), ('Th1', 260, 1187, 15.5),
                          ('Tfh', 140, 1267, 15.5)]:
    txt(lx, ly, lab, size)
txt(67, 1287, 'Umap2', 19, rotation=90)
arrow(68, 1227, 68, 1147)
txt(160, 1377, 'Umap1', 18.5)
arrow(215, 1380, 270, 1380)

# ---------- d, heatmap ----------
hm_vals = np.array([hm_3, hm_2, hm_5, hm_7, hm_1, hm_naive, hm_6, hm_4])
ax = px_axes(427, 1144, 1017, 1356)
mesh = ax.pcolormesh(hm_vals, cmap='inferno', vmin=-2, vmax=2, edgecolors='black', linewidth=1.5)
ax.invert_yaxis()
ax.set_xticks(np.arange(len(hm_cols)) + .5)
ax.set_xticklabels(hm_cols, rotation=90, fontsize=17.5)
ax.yaxis.tick_right()
ax.set_yticks(np.arange(len(hm_rows)) + .5)
ax.set_yticklabels(hm_rows, fontsize=19)
ax.tick_params(length=0, pad=4)
for s in ax.spines.values():
    s.set_linewidth(1.5)

ax = px_axes(427, 1107, 1017, 1144)
ax.set_xlim(0, 20)
ax.set_ylim(0, 106)
for xl, xr, h, hl, hr in top_tree:
    ax.plot([xl, xl, xr, xr], [hl, h, h, hr], color='#222222', lw=1.2)
ax.axis('off')

ax = px_axes(379, 1144, 427, 1356)
ax.set_ylim(8, 0)
ax.set_xlim(84, 0)
for yt, yb, h, ht, hb in left_tree:
    ax.plot([ht, h, h, hb], [yt, yt, yb, yb], color='#222222', lw=1.2)
ax.axis('off')

cax = px_axes(1059, 1371, 1237, 1392)
cb = fig.colorbar(mesh, cax=cax, orientation='horizontal')
cb.set_ticks([-2, -1, 0, 1, 2])
cb.set_ticklabels(['-2', '−1', '0', '1', '2'])
cb.ax.tick_params(labelsize=13, length=3, pad=2)
cb.outline.set_linewidth(.8)
txt(1147, 1356, 'z-score', 13)

# ---------- d, feature umaps ----------
for name, rows, left, bar_ticks, bar_top in zip(feat_names, feat_maps, feat_left, feat_bar_ticks, feat_bar_top):
    back = px_axes(left, 1535, left + 193, 1728, facecolor='black')
    back.set_xticks([])
    back.set_yticks([])
    for s in back.spines.values():
        s.set_color('#777777')
    ax = px_axes(left + 25, 1547, left + 157, 1711, facecolor='black')
    ax.set_xlim(-3.2, 3.27)
    ax.set_ylim(-5.2, 7.1)
    gx, gy, gv = grid_cells(rows, -3.1, .25, 6.7, .4)
    ax.scatter(gx, gy, c=[int(v) for v in gv], s=15, marker='s', cmap=magma_like, vmin=0, vmax=9, linewidths=0)
    ax.set_xticks([-2, 0, 2])
    ax.set_yticks([5, 2.5, 0, -2.5, -5])
    ax.set_yticklabels(['5', '2.5', '0', '-2.5', '-5'])
    ax.tick_params(length=0, labelsize=12, labelcolor='white', pad=1)
    for s in ax.spines.values():
        s.set_color('#bbbbbb')
        s.set_linewidth(1.5)
    small_bar(left + 163, 1615, left + 170, 1650, magma_like, -.2, bar_top, bar_ticks,
              [str(t) for t in bar_ticks], 'white', 5.5)
    txt(left + 91, 1514, name, 18.5)
txt(71, 1673, 'Umap2', 19, rotation=90)
arrow(72, 1621, 72, 1530)
txt(141, 1758, 'Umap1', 19)
arrow(197, 1758, 1317, 1758, ms=22, lw=1.8)

# ---------- d, box plot ----------
ax = px_axes(1463, 1531, 1720, 1733)
ax.set_xlim(.343, 7.686)
ax.set_ylim(0, 100)
for p, q1, med, q3, col, pts in zip(range(1, 8), d_q1, d_med, d_q3, d_colors, d_pts):
    ax.plot([p, p], [min(pts), max(pts)], color='#222222', lw=1.3, zorder=1)
    ax.add_patch(Rectangle((p - .3, q1), .6, q3 - q1, facecolor=col, edgecolor='#333333', lw=1.3, zorder=2))
    ax.plot([p - .3, p + .3], [med, med], color='#222222', lw=1.4, zorder=3)
    for dx, v in swarm(pts, 3, .28):
        ax.scatter([p + dx], [v], s=42, color='black', linewidths=0, zorder=4, clip_on=False)
for s in ['top', 'right']:
    ax.spines[s].set_visible(False)
ax.spines['left'].set_linewidth(1.4)
ax.spines['bottom'].set_linewidth(1.4)
ax.set_xticks(range(1, 8))
ax.set_yticks([0, 20, 40, 60, 80, 100])
ax.tick_params(labelsize=16, width=1.3, length=6, pad=3)
txt(1362, 1613, '% Ki67+ of SMARTA', 22, rotation=90)
txt(1395, 1617, 'CD4+ T cell cluster', 21, rotation=90)
txt(1590, 1788, 'Cluster', 23)
over.plot([1479, 1658], [1492, 1492], color='#222222', lw=1.6)
over.plot([1479, 1587], [1520, 1520], color='#222222', lw=1.6)
txt(1568, 1490, '*', 24)
txt(1533, 1515, '*', 24)

fig.savefig('out.png', dpi=100, facecolor='white')
